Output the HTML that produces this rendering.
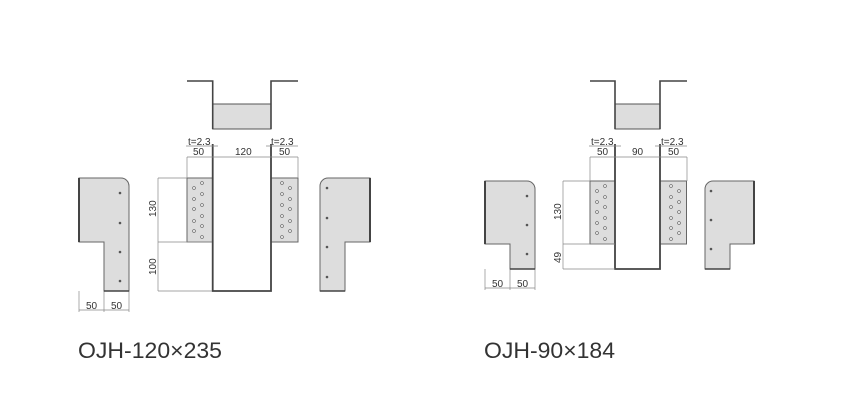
<!DOCTYPE html>
<html><head><meta charset="utf-8"><style>
html,body{margin:0;padding:0;background:#fff;width:855px;height:400px;overflow:hidden}
svg{display:block}
text{font-family:"Liberation Sans",sans-serif;fill:#333}
</style></head><body>
<svg width="855" height="400" viewBox="0 0 855 400">
<defs>
<g id="holesL"><g fill="#fff" stroke="#555" stroke-width="0.8"></g></g>
</defs>
<!-- ===== Left diagram ===== -->
<g stroke="#444" fill="none">
  <!-- top view -->
  <rect x="212.7" y="104" width="58.3" height="25" fill="#ddd" stroke="#555" stroke-width="1"/>
  <polyline points="187,81 212.7,81 212.7,129" stroke-width="1.6"/>
  <polyline points="298,81 271,81 271,129" stroke-width="1.6"/>
  <!-- plates -->
  <rect x="187" y="178" width="25.7" height="64" fill="#ddd" stroke="#666" stroke-width="1"/>
  <rect x="271" y="178" width="27" height="64" fill="#ddd" stroke="#666" stroke-width="1"/>
  <!-- channel -->
  <polyline points="212.7,144 212.7,291 271,291 271,144" stroke-width="1.8"/>
  <!-- dims -->
  <g stroke="#888" stroke-width="0.7">
    <line x1="187" y1="157" x2="298" y2="157"/>
    <line x1="187" y1="157" x2="187" y2="178"/>
    <line x1="298" y1="157" x2="298" y2="178"/>
    <line x1="186" y1="146" x2="218" y2="146"/>
    <line x1="266" y1="146" x2="298" y2="146"/>
    <line x1="158" y1="178" x2="158" y2="291"/>
    <line x1="158" y1="178" x2="187" y2="178"/>
    <line x1="158" y1="242" x2="212" y2="242"/>
    <line x1="158" y1="291" x2="212" y2="291"/>
    <line x1="79" y1="291" x2="79" y2="312"/>
    <line x1="104" y1="291" x2="104" y2="312"/>
    <line x1="129" y1="291" x2="129" y2="312"/>
    <line x1="79" y1="310" x2="129" y2="310"/>
  </g>
  <!-- left piece -->
  <path d="M79,178 H121 A8,8 0 0 1 129,186 V291 H104 V242 H79 Z" fill="#ddd" stroke="#666" stroke-width="1"/>
  <line x1="79" y1="178" x2="79" y2="242" stroke="#444" stroke-width="2"/>
  <line x1="104" y1="291" x2="129" y2="291" stroke="#444" stroke-width="1.6"/>
  <!-- right piece -->
  <path d="M370,178 H328 A8,8 0 0 0 320,186 V291 H345 V242 H370 Z" fill="#ddd" stroke="#666" stroke-width="1"/>
  <line x1="370" y1="178" x2="370" y2="242" stroke="#444" stroke-width="2"/>
  <line x1="320" y1="291" x2="345" y2="291" stroke="#444" stroke-width="1.6"/>
</g>
<g fill="#555">
  <circle cx="120" cy="193" r="1.3"/><circle cx="120" cy="223" r="1.3"/><circle cx="120" cy="252" r="1.3"/><circle cx="120" cy="281" r="1.3"/>
  <circle cx="327" cy="188" r="1.3"/><circle cx="327" cy="218" r="1.3"/><circle cx="327" cy="247" r="1.3"/><circle cx="327" cy="277" r="1.3"/>
</g>
<g fill="#fff" stroke="#666" stroke-width="0.7">
  <circle cx="194" cy="188" r="1.4"/><circle cx="194" cy="199" r="1.4"/><circle cx="194" cy="209" r="1.4"/><circle cx="194" cy="221" r="1.4"/><circle cx="194" cy="231" r="1.4"/>
  <circle cx="202" cy="183" r="1.4"/><circle cx="202" cy="194" r="1.4"/><circle cx="202" cy="205" r="1.4"/><circle cx="202" cy="216" r="1.4"/><circle cx="202" cy="226" r="1.4"/><circle cx="202" cy="237" r="1.4"/>
  <circle cx="282" cy="183" r="1.4"/><circle cx="282" cy="194" r="1.4"/><circle cx="282" cy="205" r="1.4"/><circle cx="282" cy="216" r="1.4"/><circle cx="282" cy="226" r="1.4"/><circle cx="282" cy="237" r="1.4"/>
  <circle cx="290" cy="188" r="1.4"/><circle cx="290" cy="199" r="1.4"/><circle cx="290" cy="209" r="1.4"/><circle cx="290" cy="221" r="1.4"/><circle cx="290" cy="231" r="1.4"/>
</g>
<g font-size="10">
  <text x="188" y="145">t=2.3</text>
  <text x="271" y="145">t=2.3</text>
  <text x="193" y="155">50</text>
  <text x="235" y="155">120</text>
  <text x="279" y="155">50</text>
  <text x="86" y="309">50</text>
  <text x="111" y="309">50</text>
  <text transform="translate(156,217) rotate(-90)">130</text>
  <text transform="translate(156,275) rotate(-90)">100</text>
</g>
<text x="78" y="358" font-size="22" textLength="144" lengthAdjust="spacingAndGlyphs" style="font-weight:300">OJH-120×235</text>

<!-- ===== Right diagram ===== -->
<g stroke="#444" fill="none">
  <rect x="615" y="104" width="45" height="25" fill="#ddd" stroke="#555" stroke-width="1"/>
  <polyline points="590,81 615,81 615,129" stroke-width="1.6"/>
  <polyline points="687,81 660,81 660,129" stroke-width="1.6"/>
  <rect x="590" y="181" width="25" height="63" fill="#ddd" stroke="#666" stroke-width="1"/>
  <rect x="660" y="181" width="26.5" height="63" fill="#ddd" stroke="#666" stroke-width="1"/>
  <polyline points="615,144 615,269 660,269 660,144" stroke-width="1.8"/>
  <g stroke="#888" stroke-width="0.7">
    <line x1="590" y1="157" x2="687" y2="157"/>
    <line x1="590" y1="157" x2="590" y2="181"/>
    <line x1="687" y1="157" x2="687" y2="181"/>
    <line x1="589" y1="146" x2="621" y2="146"/>
    <line x1="655" y1="146" x2="687" y2="146"/>
    <line x1="563" y1="181" x2="563" y2="269"/>
    <line x1="563" y1="181" x2="590" y2="181"/>
    <line x1="563" y1="244" x2="615" y2="244"/>
    <line x1="563" y1="269" x2="615" y2="269"/>
    <line x1="485" y1="269" x2="485" y2="290"/>
    <line x1="510" y1="269" x2="510" y2="290"/>
    <line x1="535" y1="269" x2="535" y2="290"/>
    <line x1="485" y1="288" x2="535" y2="288"/>
  </g>
  <path d="M485,181 H527 A8,8 0 0 1 535,189 V269 H510 V244 H485 Z" fill="#ddd" stroke="#666" stroke-width="1"/>
  <line x1="485" y1="181" x2="485" y2="244" stroke="#444" stroke-width="2"/>
  <line x1="510" y1="269" x2="535" y2="269" stroke="#444" stroke-width="1.6"/>
  <path d="M754,181 H713 A8,8 0 0 0 705,189 V269 H730 V244 H754 Z" fill="#ddd" stroke="#666" stroke-width="1"/>
  <line x1="754" y1="181" x2="754" y2="244" stroke="#444" stroke-width="2"/>
  <line x1="705" y1="269" x2="730" y2="269" stroke="#444" stroke-width="1.6"/>
</g>
<g fill="#555">
  <circle cx="527" cy="196" r="1.3"/><circle cx="527" cy="225" r="1.3"/><circle cx="527" cy="254" r="1.3"/>
  <circle cx="711" cy="191" r="1.3"/><circle cx="711" cy="220" r="1.3"/><circle cx="711" cy="249" r="1.3"/>
</g>
<g fill="#fff" stroke="#666" stroke-width="0.7">
  <circle cx="597" cy="191" r="1.4"/><circle cx="597" cy="202" r="1.4"/><circle cx="597" cy="212" r="1.4"/><circle cx="597" cy="223" r="1.4"/><circle cx="597" cy="233" r="1.4"/>
  <circle cx="605" cy="186" r="1.4"/><circle cx="605" cy="197" r="1.4"/><circle cx="605" cy="207" r="1.4"/><circle cx="605" cy="218" r="1.4"/><circle cx="605" cy="228" r="1.4"/><circle cx="605" cy="239" r="1.4"/>
  <circle cx="671" cy="186" r="1.4"/><circle cx="671" cy="197" r="1.4"/><circle cx="671" cy="207" r="1.4"/><circle cx="671" cy="218" r="1.4"/><circle cx="671" cy="228" r="1.4"/><circle cx="671" cy="239" r="1.4"/>
  <circle cx="679" cy="191" r="1.4"/><circle cx="679" cy="202" r="1.4"/><circle cx="679" cy="212" r="1.4"/><circle cx="679" cy="223" r="1.4"/><circle cx="679" cy="233" r="1.4"/>
</g>
<g font-size="10">
  <text x="591" y="145">t=2.3</text>
  <text x="661" y="145">t=2.3</text>
  <text x="597" y="155">50</text>
  <text x="632" y="155">90</text>
  <text x="668" y="155">50</text>
  <text x="492" y="287">50</text>
  <text x="517" y="287">50</text>
  <text transform="translate(561,220) rotate(-90)">130</text>
  <text transform="translate(561,263) rotate(-90)">49</text>
</g>
<text x="484" y="358" font-size="22" textLength="131" lengthAdjust="spacingAndGlyphs" style="font-weight:300">OJH-90×184</text>
</svg>
</body></html>
